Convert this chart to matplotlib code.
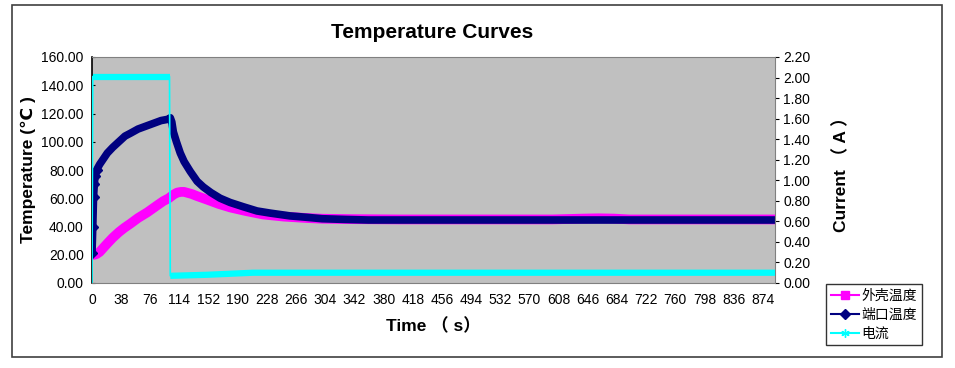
import matplotlib
matplotlib.use("Agg")
import matplotlib.pyplot as plt
import numpy as np
from matplotlib.lines import Line2D
from matplotlib.patches import Rectangle

plt.rcParams['font.family'] = ['Liberation Sans', 'DejaVu Sans', 'Noto Sans CJK SC']

# ---- data ----
shell_t = [0, 3, 6, 10, 15, 20, 27, 35, 42, 50, 60, 72, 85, 93, 100, 106, 111, 116, 120,
           130, 137, 150, 165, 180, 200, 223, 250, 280, 300, 340, 400, 500, 600, 640,
           660, 680, 700, 800, 890]
shell_v = [20, 20, 20.5, 22, 25, 28, 32, 36, 39, 42, 46, 50, 55, 58, 60, 62.5, 64, 64.5, 64.5,
           63, 61.5, 59, 56, 53.5, 51, 48.5, 47, 46, 45.5, 45.2, 45.0, 45.0, 45.0, 45.6,
           45.8, 45.6, 45.0, 45.0, 45.0]

port_t = [0, 1, 2, 3, 4, 6, 10, 15, 20, 27, 35, 43, 50, 60, 70, 80, 90, 100, 102,
          104, 106, 110, 115, 120, 128, 137, 145, 155, 167, 180, 197, 215, 232, 258,
          280, 300, 330, 360, 450, 550, 650, 750, 890]
port_v = [21, 40, 61, 70, 76, 80, 84, 88, 92, 96, 100, 104, 106, 109, 111, 113, 115, 116, 117,
          114, 107, 100, 92, 86, 79, 72, 68, 64, 60, 57, 54, 51, 49.5, 47.5,
          46.5, 45.5, 45, 44.6, 44.6, 44.6, 44.6, 44.6, 44.6]

curr_t = [0, 1, 101, 102, 150, 210, 890]
curr_v = [0.0, 2.01, 2.01, 0.07, 0.08, 0.10, 0.10]

series_names = ['外壳温度', '端口温度', '电流']
x_tick_vals = [0, 38, 76, 114, 152, 190, 228, 266, 304, 342, 380, 418, 456, 494,
               532, 570, 608, 646, 684, 722, 760, 798, 836, 874]
y_ticks_temp = [0, 20, 40, 60, 80, 100, 120, 140, 160]
y_ticks_curr = [0.0, 0.2, 0.4, 0.6, 0.8, 1.0, 1.2, 1.4, 1.6, 1.8, 2.0, 2.2]

W, H = 955, 368
fig = plt.figure(figsize=(W / 100, H / 100), dpi=100)

# outer chart frame
fig.patches.append(Rectangle((12 / W, 1 - 357 / H), 930 / W, 352 / H, transform=fig.transFigure,
                             fill=False, edgecolor='#404040', linewidth=1.2))

ax = fig.add_axes([92 / W, 1 - 283 / H, 683 / W, 226 / H])
ax.set_facecolor('#C0C0C0')
ax2 = ax.twinx()

c_shell = '#FF00FF'
c_port = '#000080'
c_curr = '#00FFFF'

ax.plot(shell_t, shell_v, color=c_shell, lw=7.0, solid_capstyle='butt',
        solid_joinstyle='round', zorder=3)
ax.plot(port_t, port_v, color=c_port, lw=5.5, solid_capstyle='butt',
        solid_joinstyle='round', zorder=4)
ax.plot(port_t[:6], port_v[:6], ls='none', marker='D', ms=5, color=c_port, zorder=4)

# current: thin connecting line plus thick horizontal runs (marker band look)
ct = np.array(curr_t, dtype=float)
cv = np.array(curr_v, dtype=float)
ax2.plot(ct, cv, color=c_curr, lw=1.2, zorder=5)
jumps = np.where(np.abs(np.diff(cv)) > 0.5)[0]
starts = [0] + list(jumps + 1)
ends = list(jumps + 1) + [len(ct)]
for s, e in zip(starts, ends):
    if e - s >= 2:
        ax2.plot(ct[s:e], cv[s:e], color=c_curr, lw=4.5, solid_capstyle='butt', zorder=5)

ax.set_xlim(0, 890)
ax.set_ylim(0, 160)
ax2.set_ylim(0, 2.2)
ax.set_zorder(ax2.get_zorder() - 1)
ax2.patch.set_visible(False)

ax.set_xticks(x_tick_vals)
ax.set_xticklabels([str(v) for v in x_tick_vals])
ax.set_yticks(y_ticks_temp)
ax.set_yticklabels(['%.2f' % v for v in y_ticks_temp])
ax2.set_yticks(y_ticks_curr)
ax2.set_yticklabels(['%.2f' % v for v in y_ticks_curr])

for a in (ax, ax2):
    for sp in a.spines.values():
        sp.set_visible(False)
ax.spines['left'].set_visible(True)
ax.spines['left'].set_color('black')
ax.spines['left'].set_linewidth(1.2)
ax.spines['top'].set_visible(True)
ax.spines['top'].set_color('#808080')
ax.spines['bottom'].set_visible(True)
ax.spines['bottom'].set_color('#808080')
ax2.spines['right'].set_visible(True)
ax2.spines['right'].set_color('#808080')

ax.tick_params(axis='y', direction='in', length=2, labelsize=10, pad=6, colors='black')
ax.tick_params(axis='x', length=0, labelsize=10, pad=7)
ax2.tick_params(axis='y', direction='out', length=3, labelsize=10, pad=3)

ax.set_ylabel('Temperature (℃ )', fontsize=12.5, fontweight='bold', labelpad=4)
ax2.set_ylabel('Current （ A ）', fontsize=12.5, fontweight='bold', labelpad=16)
ax.set_xlabel('Time （ s）', fontsize=12.5, fontweight='bold', labelpad=8)

fig.text(432 / W, 1 - 32 / H, 'Temperature Curves', ha='center', va='center',
         fontsize=15, fontweight='bold')

handles = [Line2D([], [], color=c_shell, lw=1.5, marker='s', ms=6),
           Line2D([], [], color=c_port, lw=1.5, marker='D', ms=5),
           Line2D([], [], color=c_curr, lw=1.5, marker=(6, 2, 0), ms=6)]
leg = fig.legend(handles, series_names, loc='upper left',
                 bbox_to_anchor=(826 / W, 1 - 284 / H), frameon=True, fancybox=False,
                 prop={'family': ['Noto Sans CJK SC', 'DejaVu Sans'], 'size': 10},
                 handlelength=2.0, handletextpad=0.2, borderpad=0.35, labelspacing=0.35,
                 borderaxespad=0)
leg.get_frame().set_edgecolor('black')
leg.get_frame().set_linewidth(1.0)

fig.savefig('out.png', dpi=100)
